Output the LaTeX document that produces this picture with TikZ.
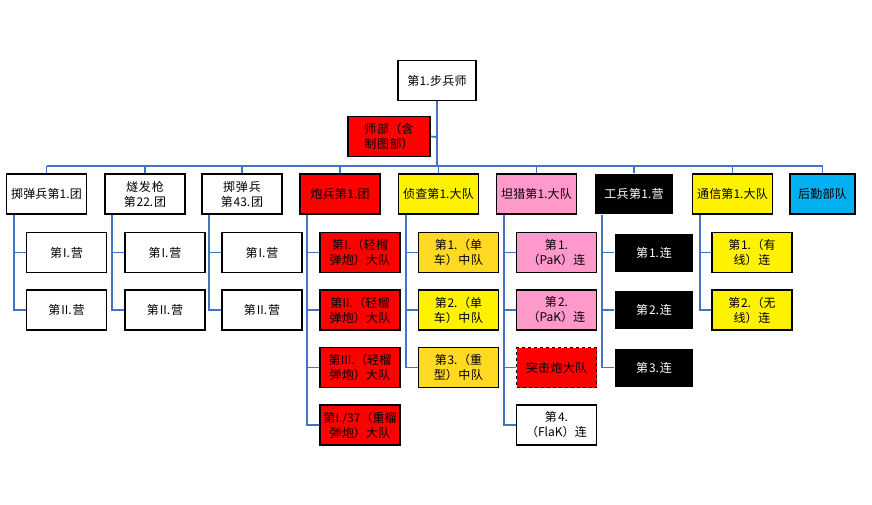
\documentclass[tikz,border=0pt]{standalone}
\usepackage{fontspec}
\newfontfamily\cjk{Noto Sans CJK SC}
\XeTeXlinebreaklocale "zh"
\XeTeXlinebreakskip=0pt plus 1pt
\definecolor{cl}{HTML}{4472C4}
\definecolor{pk}{HTML}{FF99CC}
\definecolor{yd}{HTML}{FFD922}
\definecolor{bl}{HTML}{00B0F0}
\begin{document}
\begin{tikzpicture}[x=1pt,y=-1pt,
 box/.style={draw=black,line width=1.6pt,minimum width=80pt,minimum height=40pt,inner sep=1pt,text width=76pt,align=center,font=\cjk\fontsize{12}{15}\selectfont},
 conn/.style={draw=cl,line width=1.8pt}]
\useasboundingbox (0,0) rectangle (872,505);
\node[box,minimum width=78pt,text width=74pt] (top) at (437,80.5) {第1.步兵师};
\node[box,fill=red,minimum width=82pt,text width=78pt] (hq) at (389,136.5) {师部（含制图部）};
\foreach \n/\x/\t/\f in {a/46.5/掷弹兵第1.团/white, b/145/燧发枪第22.团/white, c/242/掷弹兵第43.团/white, d/340/炮兵第1.团/red, e/438.5/侦查第1.大队/yellow, f/536.5/坦猎第1.大队/pk, h/732.5/通信第1.大队/yellow}
  \node[box,fill=\f] (\n) at (\x,194) {\t};
\node[box,fill=black,draw=none,text=white,minimum width=78pt] (g) at (634,194) {工兵第1.营};
\node[box,fill=bl,minimum width=65pt,text width=62pt] (i) at (822.5,194) {后勤部队};
\draw[conn] (top.south) -- (437,166);
\draw[conn] (437,137) -- (hq.east);
\draw[conn] (a.north|-0,166) -- (i.north|-0,166);
\foreach \n in {a,b,c,d,e,f,g,h,i} \draw[conn] (\n.north) -- (\n.north|-0,166);
\foreach \p/\x in {a/66.5, b/165, c/262}{
  \foreach \t [count=\k] in {第I.营,第II.营} {
    \node[box] (\p\k) at (\x,252.5+57.5*\k-57.5) {\t};
    \draw[conn] ([xshift=8pt]\p.south west) |- (\p\k.west);
  }}
\foreach \t/\k in {{第I.（轻榴弹炮）大队}/1,{第II.（轻榴弹炮）大队}/2,{第III.（轻榴弹炮）大队}/3,{第I./37（重榴弹炮）大队}/4}{
  \node[box,fill=red] (d\k) at (360,252.5+57.5*\k-57.5) {\t};
  \draw[conn] ([xshift=8pt]d.south west) |- (d\k.west);}
\foreach \t/\k/\f in {{第1.（单车）中队}/1/yd,{第2.（单车）中队}/2/yellow,{第3.（重型）中队}/3/yd}{
  \node[box,fill=\f] (e\k) at (458.5,252.5+57.5*\k-57.5) {\t};
  \draw[conn] ([xshift=8pt]e.south west) |- (e\k.west);}
\foreach \t/\k in {{第1.（PaK）连}/1,{第2.（PaK）连}/2}{
  \node[box,fill=pk] (f\k) at (556.5,252.5+57.5*\k-57.5) {\t};}
\node[box,fill=red,dashed] (f3) at (556.5,367.5) {突击炮大队};
\node[box,fill=white] (f4) at (556.5,425) {第4.（FlaK）连};
\foreach \k in {1,2,3,4} \draw[conn] ([xshift=8pt]f.south west) |- (f\k.west);
\foreach \k in {1,2,3}{
  \node[box,fill=black,draw=none,text=white,minimum width=78pt,minimum height=38pt] (g\k) at (654,252.5+57.5*\k-57.5) {第\k.连};
  \draw[conn] ([xshift=8pt]g.south west) |- (g\k.west);}
\foreach \t/\k in {{第1.（有线）连}/1,{第2.（无线）连}/2}{
  \node[box,fill=yellow] (h\k) at (752,252.5+57.5*\k-57.5) {\t};
  \draw[conn] ([xshift=8pt]h.south west) |- (h\k.west);}
\end{tikzpicture}
\end{document}
